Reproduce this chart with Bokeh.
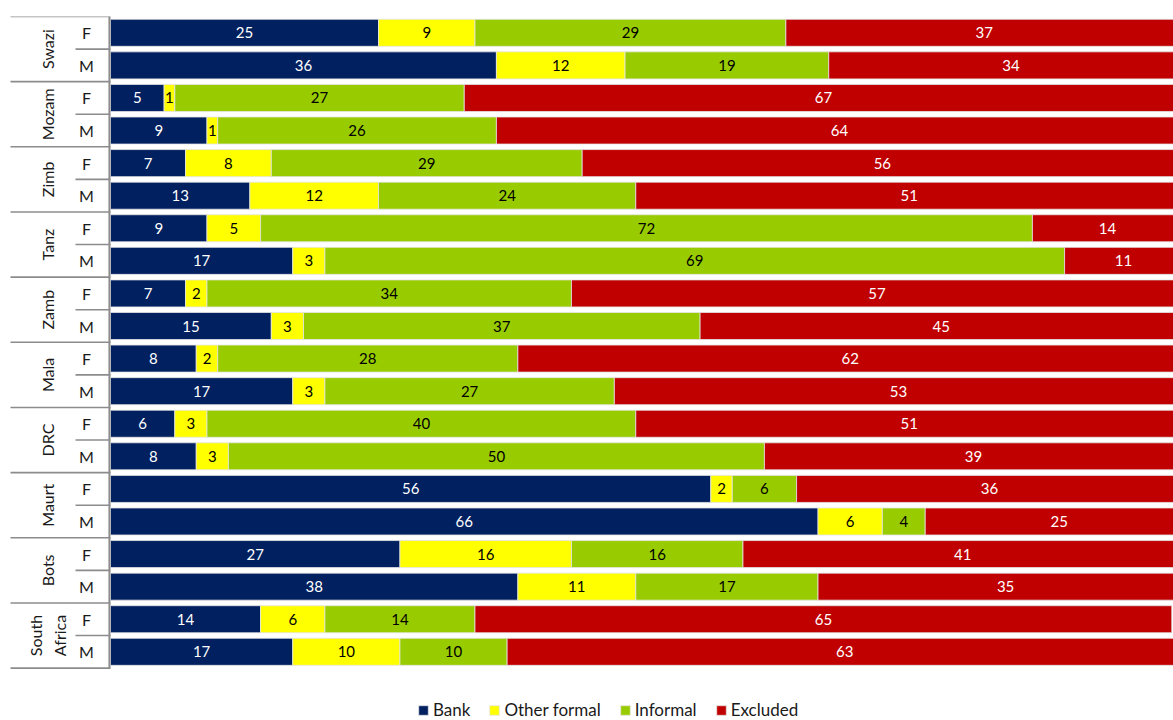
import math
from bokeh.plotting import figure
from bokeh.models import ColumnDataSource, Range1d, Legend, LegendItem
from bokeh.core.properties import value
from bokeh.embed import file_html
from bokeh.resources import INLINE

# ---------------- data ----------------
countries = ["Swazi", "Mozam", "Zimb", "Tanz", "Zamb", "Mala", "DRC", "Maurt", "Bots", "South\nAfrica"]
sexes = ["F", "M"]
series_names = ["Bank", "Other formal", "Informal", "Excluded"]
bank = [25, 36, 5, 9, 7, 13, 9, 17, 7, 15, 8, 17, 6, 8, 56, 66, 27, 38, 14, 17]
other_formal = [9, 12, 1, 1, 8, 12, 5, 3, 2, 3, 2, 3, 3, 3, 2, 6, 16, 11, 6, 10]
informal = [29, 19, 27, 26, 29, 24, 72, 69, 34, 37, 28, 27, 40, 50, 6, 4, 16, 17, 14, 10]
excluded = [37, 34, 67, 64, 56, 51, 14, 11, 57, 45, 62, 53, 51, 39, 36, 25, 41, 35, 65, 63]

colors = ["#002060", "#FFFF00", "#99CC00", "#C00000"]
label_colors = ["white", "black", "black", "white"]
FONT = "Lato"

# ---------------- geometry ----------------
W, H = 1173, 720
TOP = 16
FH = H - TOP
PX = 10.72                      # pixels per percentage point (x)
PY = 32.58                      # pixels per row (y)
x_start = -110 / PX
x_end = x_start + W / PX

n_rows = len(bank)
rows = list(range(n_rows))
sex_col = [sexes[i % 2] for i in rows]

data = dict(y=rows, sex=sex_col)
cols = ["bank", "other", "informal", "excluded"]
series = [bank, other_formal, informal, excluded]
for c, s in zip(cols, series):
    data[c] = s
source = ColumnDataSource(data)

p = figure(width=W, height=H, output_backend="svg", toolbar_location=None,
           x_range=Range1d(x_start, x_end), y_range=Range1d(-0.5 + FH / PY, -0.5),
           x_axis_location=None, y_axis_location=None,
           min_border_left=0, min_border_right=0, min_border_top=TOP, min_border_bottom=0)
p.grid.visible = False
p.outline_line_color = None
p.background_fill_color = "white"
p.border_fill_color = "white"

renderers = p.hbar_stack(cols, y="y", height=0.83, color=colors, source=source,
                         line_color="#e4e4e4", line_width=0.8)

# segment labels
cum = [0] * n_rows
for s, tc in zip(series, label_colors):
    centers = [cum[i] + s[i] / 2 for i in rows]
    cum = [cum[i] + s[i] for i in rows]
    lsrc = ColumnDataSource(dict(x=centers, y=rows, t=[str(v) for v in s]))
    p.text(x="x", y="y", text="t", source=lsrc, text_align="center", text_baseline="middle",
           text_color=tc, text_font=value(FONT), text_font_size="15px")

# category axis drawn by hand
sep_color = "#8c8c8c"
p.segment(x0=[-0.1], y0=[-0.5], x1=[-0.1], y1=[n_rows - 0.5], line_color=sep_color, line_width=2)
grp_y = [2 * k - 0.5 for k in range(len(countries) + 1)]
p.segment(x0=[(10 - 110) / PX] * len(grp_y), y0=grp_y, x1=[0] * len(grp_y), y1=grp_y,
          line_color=sep_color, line_width=1.6)
sub_y = [2 * k + 0.5 for k in range(len(countries))]
p.segment(x0=[(75 - 110) / PX] * len(sub_y), y0=sub_y, x1=[0] * len(sub_y), y1=sub_y,
          line_color=sep_color, line_width=1.6)

p.text(x=[(86 - 110) / PX] * n_rows, y=rows, text=sex_col, text_align="center",
       text_baseline="middle", text_color="#1a1a1a", text_font=value(FONT), text_font_size="16px")
p.text(x=[(47 - 110) / PX] * len(countries), y=[2 * k + 0.5 for k in range(len(countries))],
       text=countries, angle=math.pi / 2, text_align="center", text_baseline="middle",
       text_color="#1a1a1a", text_font=value(FONT), text_font_size="16px", text_line_height=1.25)

legend = Legend(items=[LegendItem(label=n, renderers=[r]) for n, r in zip(series_names, renderers)],
                orientation="horizontal", location=(417, 0), glyph_width=12, glyph_height=12,
                label_standoff=4, spacing=18, padding=0, margin=0,
                border_line_color=None, background_fill_alpha=0,
                label_text_font=FONT, label_text_font_size="17px", label_text_color="#1a1a1a")
p.add_layout(legend, "center")

open("out.html", "w").write(file_html(p, INLINE))
